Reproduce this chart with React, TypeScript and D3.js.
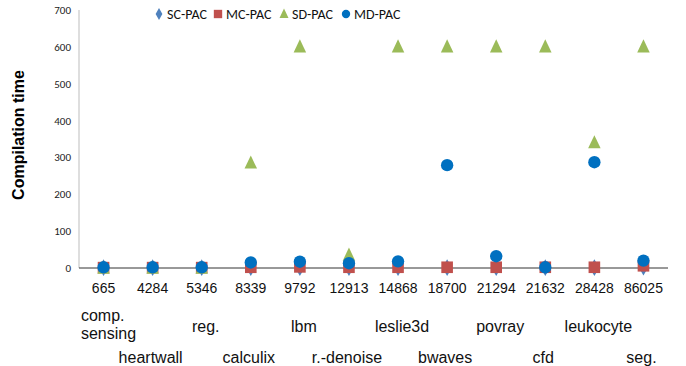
import React, { useRef, useEffect } from "react";
import * as d3 from "d3";

const sizes = ["665", "4284", "5346", "8339", "9792", "12913", "14868", "18700", "21294", "21632", "28428", "86025"];
const benchmarks = [
  "comp.\nsensing", "heartwall", "reg.", "calculix", "lbm", "r.-denoise",
  "leslie3d", "bwaves", "povray", "cfd", "leukocyte", "seg.",
];
const scPac = [1, 1, 1, 1, 1, 1, 1, 1, 1, 1, 1, 2];
const mcPac = [1, 1, 1, 2, 3, 2, 2, 2, 2, 2, 2, 6];
const sdPac = [0, 0, 0, 285, 600, 35, 600, 600, 600, 600, 340, 600];
const mdPac = [2, 2, 2, 15, 17, 13, 18, 279, 32, 2, 287, 20];
const yTicks = [0, 100, 200, 300, 400, 500, 600, 700];

const W = 686;
const H = 366;
const left = 79;
const right = 668;
const top = 10;
const bottom = 268;
const font = "'Liberation Sans', Arial, sans-serif";
const narrow = "Carlito, 'Liberation Sans Narrow', 'Liberation Sans', sans-serif";

const App = () => {
  const svgRef = useRef(null);

  useEffect(() => {
    const svg = d3.select(svgRef.current);
    svg.selectAll("*").remove();

    const x = d3.scaleBand().domain(sizes).range([left, right]);
    const y = d3.scaleLinear().domain([0, 700]).range([bottom, top]);
    const cx = (i) => x(sizes[i]) + x.bandwidth() / 2;

    // y axis
    svg.append("line")
      .attr("x1", left).attr("x2", left)
      .attr("y1", y(700)).attr("y2", y(0))
      .attr("stroke", "#bdbdbd");
    svg.append("g").selectAll("text").data(yTicks).enter().append("text")
      .attr("x", left - 8).attr("y", (d) => y(d) + 4)
      .attr("text-anchor", "end")
      .attr("font-family", narrow)
      .attr("font-size", 11).attr("fill", "#222")
      .text((d) => d);

    svg.append("text")
      .attr("transform", `translate(24, 135) rotate(-90)`)
      .attr("text-anchor", "middle")
      .attr("font-family", font).attr("font-weight", "bold").attr("font-size", 16)
      .text("Compilation time");

    // x axis
    svg.append("line")
      .attr("x1", left).attr("x2", right)
      .attr("y1", y(0)).attr("y2", y(0))
      .attr("stroke", "#333");
    svg.append("g").selectAll("text").data(sizes).enter().append("text")
      .attr("x", (d, i) => cx(i)).attr("y", 293)
      .attr("text-anchor", "middle")
      .attr("font-family", font).attr("font-size", 14).attr("fill", "#111")
      .text((d) => d);

    // benchmark names, staggered in two rows
    benchmarks.forEach((b, i) => {
      const lines = b.split("\n");
      const t = svg.append("text")
        .attr("font-family", font).attr("font-size", 16).attr("fill", "#111");
      if (lines.length > 1) {
        lines.forEach((l, k) => {
          t.append("tspan").attr("x", 0).attr("y", 321 + k * 18).text(l);
        });
        const w = t.node().getBBox().width;
        t.attr("transform", `translate(${cx(i) - w / 2 + 5}, 0)`);
      } else {
        const even = i % 2 === 0;
        t.attr("x", cx(i) + (even ? 4 : -2)).attr("y", even ? 332 : 363)
          .attr("text-anchor", "middle").text(b);
      }
    });

    // series
    const sym = (type, size) => d3.symbol().type(type).size(size)();
    const tri = (s) => `M0,${-s * 0.6}L${s / 2},${s * 0.45}L${-s / 2},${s * 0.45}Z`;
    const series = [
      { data: scPac, color: "#4f81bd", path: sym(d3.symbolDiamond, 80) },
      { data: mcPac, color: "#c0504d", path: sym(d3.symbolSquare, 135) },
      { data: sdPac, color: "#9bbb59", path: tri(12.5) },
      { data: mdPac, color: "#0070c0", path: sym(d3.symbolCircle, 120) },
    ];
    series.forEach((s) => {
      svg.append("g").selectAll("path").data(s.data).enter().append("path")
        .attr("d", s.path)
        .attr("transform", (d, i) => `translate(${cx(i)}, ${y(d)})`)
        .attr("fill", s.color);
    });

    // legend
    const legend = [
      { name: "SC-PAC", color: "#4f81bd", path: sym(d3.symbolDiamond, 40), x: 159 },
      { name: "MC-PAC", color: "#c0504d", path: sym(d3.symbolSquare, 70), x: 218 },
      { name: "SD-PAC", color: "#9bbb59", path: tri(9), x: 284 },
      { name: "MD-PAC", color: "#0070c0", path: sym(d3.symbolCircle, 55), x: 346 },
    ];
    const lg = svg.append("g").selectAll("g").data(legend).enter().append("g")
      .attr("transform", (d) => `translate(${d.x}, 14)`);
    lg.append("path").attr("d", (d) => d.path).attr("fill", (d) => d.color);
    lg.append("text")
      .attr("x", 8).attr("y", 5)
      .attr("font-family", narrow)
      .attr("font-size", 14).attr("fill", "#111")
      .text((d) => d.name);
  }, []);

  return (
    <div>
      <svg ref={svgRef} width={W} height={H} style={{ position: "absolute", left: 0, top: 0 }}></svg>
    </div>
  );
};

export default App;
